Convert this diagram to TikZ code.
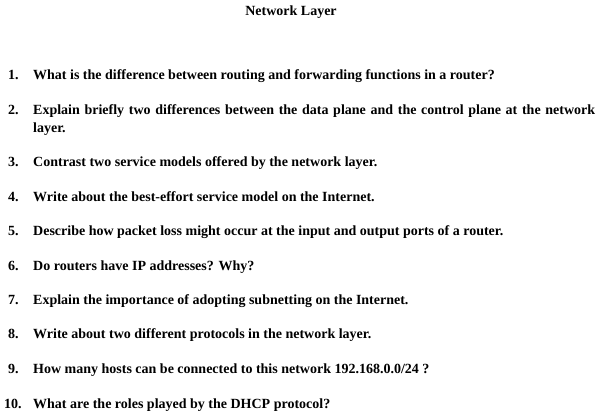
\documentclass[tikz,border=0pt]{standalone}
\usepackage{fontspec}
\setmainfont{Liberation Serif}
\begin{document}
\begin{tikzpicture}[x=1pt,y=-1pt,
  num/.style={anchor=base west,inner sep=0pt,font=\bfseries\fontsize{14}{18}\selectfont},
  txt/.style={anchor=base west,inner sep=0pt,font=\bfseries\fontsize{14}{18}\selectfont}]
\useasboundingbox[fill=white] (0,0) rectangle (600,419);
\node[txt,anchor=base] (t) at (291,16) {Network Layer};
\node[num] (n1) at (8,80) {1.}; \node[txt] (q1) at (33,80) {What is the difference between routing and forwarding functions in a router?};
\node[num] (n2) at (8,115) {2.};
\node[txt,anchor=base west,text width=562pt,align=justify] (q2) at (33,115) {Explain briefly two differences between the data plane and the control plane at the network layer.};
\node[num] (n3) at (8,167) {3.}; \node[txt] (q3) at (33,167) {Contrast two service models offered by the network layer.};
\node[num] (n4) at (8,202) {4.}; \node[txt] (q4) at (33,202) {Write about the best-effort service model on the Internet.};
\node[num] (n5) at (8,236) {5.}; \node[txt] (q5) at (33,236) {Describe how packet loss might occur at the input and output ports of a router.};
\node[num] (n6) at (8,271) {6.}; \node[txt] (q6) at (33,271) {Do routers have IP addresses? Why?};
\node[num] (n7) at (8,305) {7.}; \node[txt] (q7) at (33,305) {Explain the importance of adopting subnetting on the Internet.};
\node[num] (n8) at (8,339) {8.}; \node[txt] (q8) at (33,339) {Write about two different protocols in the network layer.};
\node[num] (n9) at (8,374) {9.}; \node[txt] (q9) at (33,374) {How many hosts can be connected to this network 192.168.0.0/24 ?};
\node[num] (n10) at (4,409) {10.}; \node[txt] (q10) at (33,409) {What are the roles played by the DHCP protocol?};
\end{tikzpicture}
\end{document}
